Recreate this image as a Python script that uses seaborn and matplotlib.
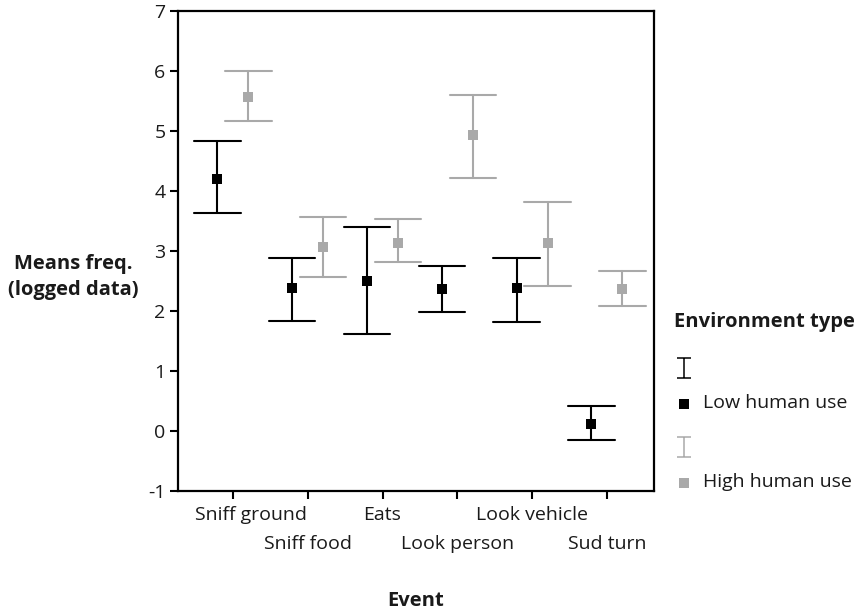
import numpy as np
import pandas as pd
import matplotlib
matplotlib.use("Agg")
import matplotlib.pyplot as plt
import seaborn as sns
from matplotlib.lines import Line2D
from matplotlib.path import Path
import matplotlib.transforms as mtransforms

# ---- data ----
events = ["Sniff ground", "Sniff food", "Eats", "Look person", "Look vehicle", "Sud turn"]
groups = ["Low human use", "High human use"]
low_mean = [4.20, 2.38, 2.50, 2.36, 2.39, 0.11]
low_lo   = [3.64, 1.84, 1.61, 1.98, 1.82, -0.155]
low_hi   = [4.84, 2.88, 3.40, 2.75, 2.89, 0.42]
high_mean = [5.56, 3.06, 3.14, 4.93, 3.14, 2.36]
high_lo   = [5.16, 2.56, 2.81, 4.22, 2.42, 2.08]
high_hi   = [6.00, 3.56, 3.53, 5.60, 3.82, 2.67]
yticks = [-1, 0, 1, 2, 3, 4, 5, 6, 7]

BLACK = "#000000"
GRAY = "#a9a9a9"
TEXT = "#1a1a1a"
FS = 14
FSB = 14.5

rows = []
for g, lo, m, hi in [(groups[0], low_lo, low_mean, low_hi),
                     (groups[1], high_lo, high_mean, high_hi)]:
    for e, a, b, c in zip(events, lo, m, hi):
        for v in (a, b, c):
            rows.append({"Event": e, "Environment type": g, "value": v})
df = pd.DataFrame(rows)

sns.set_style("white")
plt.rcParams["font.family"] = ["Open Sans", "DejaVu Sans"]
plt.rcParams["font.size"] = FS

fig = plt.figure(figsize=(8.59, 6.10), dpi=100)
W, H = 859, 610
L, R, T, B = 178, 654, 11, 491
ax = fig.add_axes([L / W, 1 - B / H, (R - L) / W, (B - T) / H])

sns.pointplot(
    data=df, x="Event", y="value", hue="Environment type",
    order=events, hue_order=groups,
    estimator="median", errorbar=lambda x: (x.min(), x.max()),
    dodge=0.415, linestyle="none", markers="s", capsize=0.62,
    palette={groups[0]: BLACK, groups[1]: GRAY},
    err_kws={"linewidth": 1.5}, markersize=7.6, markeredgewidth=0,
    ax=ax, legend=False,
)

ax.set_xlim(-0.735, 5.63)
ax.set_ylim(-1, 7)
ax.set_yticks(yticks)
ax.set_yticklabels([str(v) for v in yticks], color=TEXT, fontsize=FS)
ax.set_xticks(range(len(events)))
ax.set_xticklabels(events, color=TEXT, fontsize=FS)
ax.tick_params(axis="both", direction="out", length=6, width=1.5, color=BLACK,
               bottom=True, left=True, pad=3)
ax.tick_params(axis="x", pad=5)
xlabels = ax.get_xticklabels()
for i, lbl in enumerate(xlabels):
    dx = 18 / 100 if i == 0 else 0
    dy = -29 / 100 if i % 2 == 1 else 0
    lbl.set_transform(lbl.get_transform() +
                      mtransforms.ScaledTranslation(dx, dy, fig.dpi_scale_trans))
for s in ax.spines.values():
    s.set_visible(True)
    s.set_color(BLACK)
    s.set_linewidth(1.6)

ax.set_xlabel("Event", fontweight="bold", fontsize=FSB, color=TEXT, va="center")
ax.xaxis.set_label_coords(0.5, -(601 - B) / (B - T))
ax.set_ylabel("Means freq.\n(logged data)", fontweight="bold", fontsize=FSB,
              color=TEXT, rotation=0, ha="center", va="center", linespacing=1.4)
ax.yaxis.set_label_coords((73 - L) / (R - L), (B - 277) / (B - T))

# ---- legend (manual) ----
def fx(px):
    return px / W

def fy(py):
    return 1 - py / H

ibeam = Path([(-0.72, -1), (0.72, -1), (0, -1), (0, 1), (-0.72, 1), (0.72, 1)],
             [Path.MOVETO, Path.LINETO, Path.MOVETO, Path.LINETO, Path.MOVETO, Path.LINETO])

fig.text(fx(674), fy(322), "Environment type", fontweight="bold", fontsize=FSB,
         color=TEXT, ha="left", va="center")
for col, yb, ys, lab in [(BLACK, 368, 404, groups[0]), (GRAY, 447, 483, groups[1])]:
    fig.add_artist(Line2D([fx(684)], [fy(yb)], transform=fig.transFigure,
                          marker=ibeam, markersize=15, markerfacecolor="none",
                          markeredgecolor=col, markeredgewidth=1.1, linestyle="none"))
    fig.add_artist(Line2D([fx(684)], [fy(ys)], transform=fig.transFigure,
                          marker="s", markersize=7, markerfacecolor=col,
                          markeredgewidth=0, linestyle="none"))
    fig.text(fx(703), fy(ys - 1), lab, fontsize=FS, color=TEXT, ha="left", va="center")

fig.savefig("out.png", dpi=100)
